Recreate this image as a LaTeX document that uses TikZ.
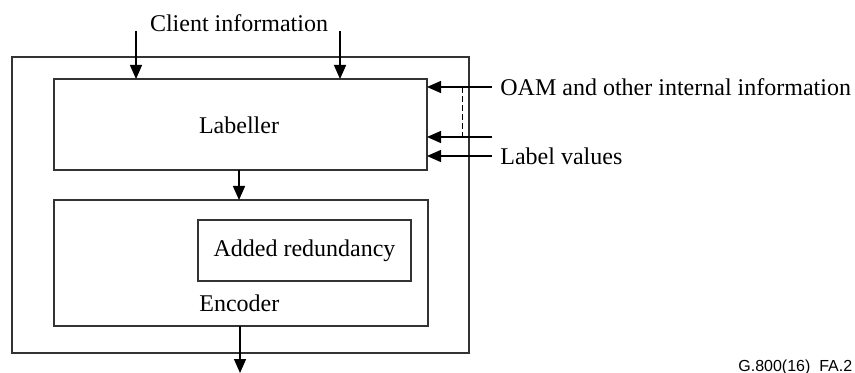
\documentclass[tikz,border=0pt]{standalone}
\usepackage{fontspec}
\setmainfont{Liberation Serif}
\newfontfamily\figsans{Liberation Sans}
\usetikzlibrary{arrows.meta}
\begin{document}
\begin{tikzpicture}[x=0.5pt,y=-0.5pt,
  box/.style={draw=black!80,line width=0.8pt,inner sep=0pt,outer sep=0pt},
  arr/.style={-{Triangle[length=7pt,width=6pt]},line width=0.7pt},
  lbl/.style={font=\fontsize{12}{14}\selectfont,inner sep=0pt}]
\useasboundingbox (0,0) rectangle (855,373);
% boxes
\draw[box] (12,57) rectangle (469,353);
\node[box,minimum width=186.5pt,minimum height=45.5pt,anchor=north west] (lab) at (54,79) {};
\node[box,minimum width=187pt,minimum height=63pt,anchor=north west] (enc) at (54,200) {};
\node[box,minimum width=106.5pt,minimum height=30.5pt,anchor=north west,font=\fontsize{12}{14}\selectfont] (red) at (198,220) {Added redundancy};
\node[lbl] (labt) at (239,125) {Labeller};
\node[lbl,anchor=west] (enct) at (199,303) {Encoder};
% texts
\node[lbl] (client) at (239,23) {Client information};
\node[lbl,anchor=west,inner sep=4pt] (oam) at (492,87) {OAM and other internal information};
\node[lbl,anchor=west,inner sep=4pt] (lv) at (492,156) {Label values};
\node[anchor=west,inner sep=0pt,font=\figsans\fontsize{8}{10}\selectfont] (fig) at (738,367) {G.800(16)\ \ FA.2};
% coordinates
\coordinate (c1) at (136,31);
\coordinate (c2) at (340,31);
\coordinate (mid) at (492,137);
\coordinate (out) at (240,373);
% arrows
\draw[arr] (c1) -- (c1 |- lab.north);
\draw[arr] (c2) -- (c2 |- lab.north);
\draw[arr] (oam.west) -- (oam.west -| lab.east);
\draw[arr] (mid) -- (mid -| lab.east);
\draw[arr] (lv.west) -- (lv.west -| lab.east);
\draw[arr] (lab.south -| labt.center) -- (enc.north -| labt.center);
\draw[arr] (enc.south -| out) -- (out);
\draw[line width=0.5pt,dashed,dash pattern=on 3pt off 1.5pt] (462,87) -- (462,137);
\end{tikzpicture}
\end{document}
